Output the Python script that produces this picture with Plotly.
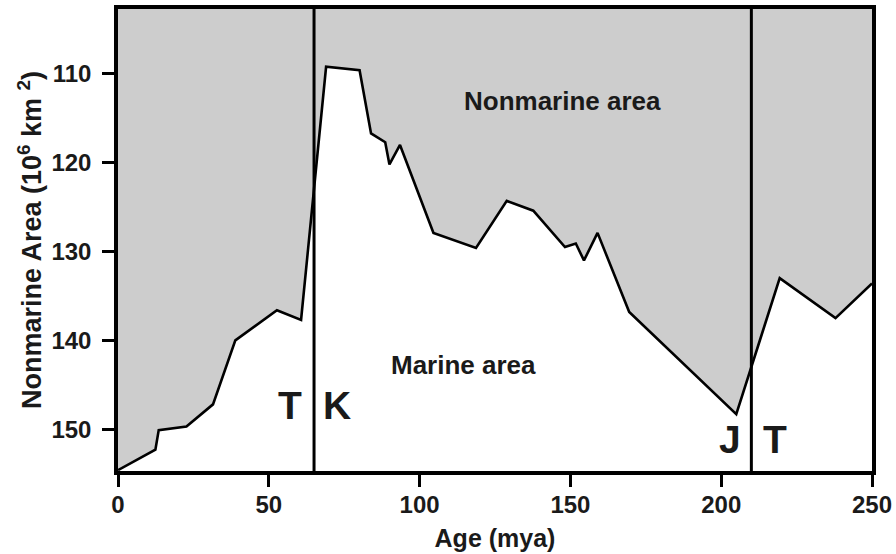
import plotly.graph_objects as go

# Age (mya) and nonmarine area (10^6 km^2)
age = [0, 12.4, 13.5, 22.7, 31.5, 38.9, 52.7, 60.7, 69.0, 80.1, 83.9, 88.6, 90.0, 93.5,
       104.6, 118.7, 128.9, 137.7, 148.2, 151.8, 154.5, 159.0, 169.5, 205.0, 219.4, 237.9, 250]
area = [154.6, 152.3, 150.1, 149.7, 147.2, 140.0, 136.6, 137.7, 109.2, 109.6, 116.7, 117.7, 120.2, 118.0,
        127.9, 129.6, 124.3, 125.4, 129.5, 129.1, 131.0, 127.9, 136.8, 148.3, 133.0, 137.5, 133.6]

boundaries = [65, 210]          # period boundaries (mya)
x_ticks = [0, 50, 100, 150, 200, 250]
y_ticks = [110, 120, 130, 140, 150]

FONT = "Liberation Sans"
INK = "#1a1a1a"

fig = go.Figure()
fig.add_trace(go.Scatter(
    x=age, y=area, mode="lines",
    line=dict(color="black", width=2.6),
    fill="tozeroy", fillcolor="#cdcdcd",
    hoverinfo="skip", showlegend=False,
))

for b in boundaries:
    fig.add_shape(type="line", x0=b, x1=b, y0=0, y1=1, xref="x", yref="paper",
                  line=dict(color="black", width=3))

ann_font = dict(family=FONT, size=26, color=INK, weight="bold")
big_font = dict(family=FONT, size=39, color=INK, weight="bold")
fig.add_annotation(x=147.4, y=113.0, text="Nonmarine area", showarrow=False, font=ann_font)
fig.add_annotation(x=114.6, y=142.8, text="Marine area", showarrow=False, font=ann_font)
fig.add_annotation(x=57.1, y=147.3, text="T", showarrow=False, font=big_font)
fig.add_annotation(x=72.7, y=147.3, text="K", showarrow=False, font=big_font)
fig.add_annotation(x=202.8, y=151.2, text="J", showarrow=False, font=big_font)
fig.add_annotation(x=217.7, y=151.2, text="T", showarrow=False, font=big_font)

axis_common = dict(
    showline=True, linecolor="black", linewidth=3.5, mirror=True,
    ticks="outside", ticklen=12, tickwidth=3, tickcolor="black",
    showgrid=False, zeroline=False, automargin=False,
    tickfont=dict(family=FONT, size=24, color=INK, weight="bold"),
)

fig.update_xaxes(range=[0, 250], tickvals=x_ticks, ticklabelstandoff=-3,
                 title=dict(text="Age (mya)", font=dict(family=FONT, size=25, color=INK, weight="bold"),
                            standoff=14),
                 **axis_common)
fig.update_yaxes(range=[154.7, 102.7], tickvals=y_ticks, ticklabelstandoff=6,
                 title=dict(text="Nonmarine Area (10<sup>6</sup> km <sup>2</sup>)",
                            font=dict(family=FONT, size=27, color=INK, weight="bold"), standoff=3),
                 **axis_common)

fig.update_layout(
    width=896, height=554,
    margin=dict(l=118, r=24, t=9, b=83, autoexpand=False),
    plot_bgcolor="white", paper_bgcolor="white",
    font=dict(family=FONT, color=INK),
)

fig.write_html("out.html", config={"displayModeBar": False},
               post_script="document.body.style.margin='0';document.body.style.overflow='hidden';")
